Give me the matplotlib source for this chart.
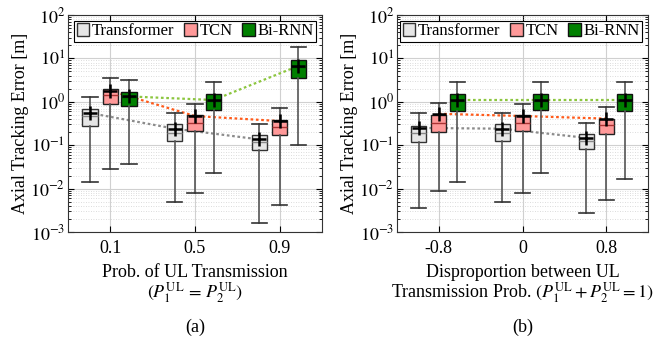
import matplotlib
matplotlib.use("Agg")
import matplotlib.pyplot as plt
import numpy as np

plt.rcParams['font.family'] = ['Liberation Serif', 'DejaVu Serif']
plt.rcParams['mathtext.fontset'] = 'stix'

models = ["Transformer", "TCN", "Bi-RNN"]
ticks_a = ["0.1", "0.5", "0.9"]
ticks_b = ["-0.8", "0", "0.8"]

# stats per model: lists over groups -> [whislo, q1, med, q3, whishi, mean]
a_transformer = [[0.014, 0.27, 0.46, 0.69, 1.32, 0.55],
                 [0.005, 0.125, 0.19, 0.30, 0.55, 0.24],
                 [0.0016, 0.079, 0.118, 0.17, 0.31, 0.136]]
a_tcn = [[0.028, 0.90, 1.45, 2.0, 3.6, 1.8],
         [0.008, 0.21, 0.33, 0.50, 0.90, 0.47],
         [0.0043, 0.17, 0.26, 0.39, 0.71, 0.36]]
a_birnn = [[0.036, 0.81, 1.28, 1.7, 3.1, 1.33],
           [0.023, 0.65, 1.07, 1.5, 2.9, 1.10],
           [0.10, 3.5, 6.3, 9.2, 18.0, 6.7]]

b_transformer = [[0.0035, 0.116, 0.19, 0.28, 0.55, 0.25],
                 [0.005, 0.125, 0.19, 0.30, 0.55, 0.24],
                 [0.0028, 0.081, 0.123, 0.18, 0.33, 0.148]]
b_tcn = [[0.0088, 0.20, 0.32, 0.50, 0.96, 0.53],
         [0.008, 0.21, 0.33, 0.50, 0.90, 0.47],
         [0.0056, 0.18, 0.29, 0.41, 0.75, 0.41]]
b_birnn = [[0.014, 0.63, 1.07, 1.5, 2.9, 1.10],
           [0.023, 0.65, 1.07, 1.5, 2.9, 1.10],
           [0.017, 0.63, 1.07, 1.5, 2.9, 1.10]]

xlabel_a = ["Prob. of UL Transmission",
            r"$(P_1^{\mathrm{UL}}\,=\,P_2^{\mathrm{UL}})$"]
xlabel_b = ["Disproportion between UL",
            r"Transmission Prob. $(P_1^{\mathrm{UL}} + P_2^{\mathrm{UL}} = 1)$"]

face_colors = ["#e6e6e6", "#ff9999", "#008000"]
edge_colors = ["#333333", "#222222", "#111111"]
median_colors = ["#888888", "#aa3333", "#004400"]
line_colors = ["#8c8c8c", "#ff5a1a", "#8cc63f"]
offsets = [-0.24, 0.0, 0.22]
box_w = 0.18
FS = 13

W, H = 655, 337
fig = plt.figure(figsize=(6.55, 3.37), dpi=100)
ax_a = fig.add_axes([68 / W, 1 - 232 / H, 254 / W, 217 / H])
ax_b = fig.add_axes([397 / W, 1 - 232 / H, 251 / W, 217 / H])


def draw(ax, data_sets, tick_labels, xlabel, letter):
    base = np.arange(1, len(tick_labels) + 1)
    handles = []
    for i, data in enumerate(data_sets):
        pos = base + offsets[i]
        stats = [dict(whislo=d[0], q1=d[1], med=d[2], q3=d[3], whishi=d[4],
                      mean=d[5], fliers=[]) for d in data]
        ax.plot(pos, [d[5] for d in data], linestyle=(0, (1.2, 1.2)),
                color=line_colors[i], lw=1.6, zorder=2)
        bp = ax.bxp(stats, positions=pos, widths=box_w, patch_artist=True,
                    showmeans=True, manage_ticks=False,
                    boxprops=dict(facecolor=face_colors[i], edgecolor=edge_colors[i], lw=1.0),
                    whiskerprops=dict(color="#555555", lw=1.2),
                    capprops=dict(color="#333333", lw=1.2),
                    medianprops=dict(color=median_colors[i], lw=1.0),
                    meanprops=dict(marker="+", markeredgecolor="black", markersize=10,
                                   markeredgewidth=1.8),
                    capwidths=box_w)
        for art in bp['boxes'] + bp['whiskers'] + bp['caps'] + bp['medians'] + bp['means']:
            art.set_zorder(3)
        handles.append(bp['boxes'][0])
    ax.set_yscale('log')
    ax.set_ylim(1e-3, 1e2)
    ax.set_xlim(0.5, 3.5)
    ax.set_xticks(base)
    ax.set_xticklabels(tick_labels, fontsize=FS)
    ax.set_yticks([1e-3, 1e-2, 1e-1, 1e0, 1e1, 1e2])
    ax.set_yticklabels([r"$10^{-3}$", r"$10^{-2}$", r"$10^{-1}$", r"$10^{0}$",
                        r"$10^{1}$", r"$10^{2}$"], fontsize=FS)
    ax.tick_params(which='both', direction='in', top=True, right=True)
    ax.tick_params(which='major', length=4)
    ax.tick_params(axis='x', which='major', pad=6)
    ax.tick_params(axis='y', which='major', pad=2)
    ax.tick_params(which='minor', length=2)
    ax.grid(True, which='major', color='#d0d0d0', lw=0.8, zorder=0)
    ax.grid(True, which='minor', axis='y', color='#d0d0d0', lw=0.6,
            linestyle=(0, (1, 2)), zorder=0)
    ax.set_axisbelow(True)
    for s in ax.spines.values():
        s.set_color('#333333')
        s.set_linewidth(0.8)
    ax.set_ylabel("Axial Tracking Error [m]", fontsize=FS, labelpad=1)
    leg = ax.legend(handles, models, loc='upper right', ncol=3, fontsize=12,
                    handlelength=0.75, handleheight=0.75, handletextpad=0.15,
                    columnspacing=0.6, borderpad=0.15, borderaxespad=0.35,
                    fancybox=False, framealpha=1, edgecolor='black')
    leg.get_frame().set_linewidth(0.8)
    bb = ax.get_position()
    cx = bb.x0 + bb.width / 2
    fig.text(cx, 1 - 277 / H, xlabel[0], ha='center', va='baseline', fontsize=FS)
    fig.text(cx, 1 - 298 / H, xlabel[1], ha='center', va='baseline', fontsize=FS)
    fig.text(cx, 1 - 327 / H, letter, ha='center', va='center', fontsize=FS)


draw(ax_a, [a_transformer, a_tcn, a_birnn], ticks_a, xlabel_a, "(a)")
draw(ax_b, [b_transformer, b_tcn, b_birnn], ticks_b, xlabel_b, "(b)")

fig.savefig("out.png", dpi=100)
